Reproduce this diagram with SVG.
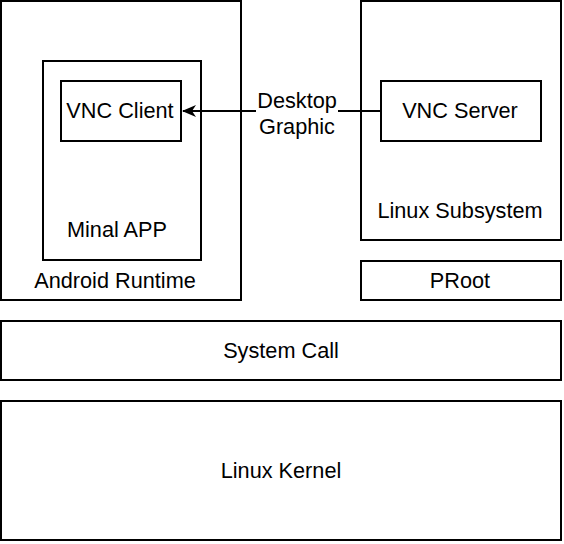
<svg xmlns="http://www.w3.org/2000/svg" width="564" height="544" viewBox="0 0 564 544">
<defs>
<style>
rect{fill:#fff;stroke:#000;stroke-width:2}
text{font-family:"Liberation Sans",Arial,sans-serif;font-size:21.7px;fill:#000;text-anchor:middle}
.lbl{fill:#fff;stroke:none}
</style>
<marker id="ah" markerWidth="14" markerHeight="12" refX="13" refY="6" orient="auto" markerUnits="userSpaceOnUse">
<path d="M0,0 L14,6 L0,12 L4,6 Z" fill="#000"/>
</marker>
</defs>
<g id="android-runtime"><rect x="1" y="1" width="240" height="299"/><text x="115" y="288">Android Runtime</text></g>
<g id="minal-app"><rect x="43" y="61" width="158" height="199"/><text x="117" y="237">Minal APP</text></g>
<g id="vnc-client"><rect x="61" y="81" width="120" height="60"/><text x="120" y="118">VNC Client</text></g>
<g id="linux-subsystem"><rect x="361" y="1" width="200" height="239"/><text x="460" y="218">Linux Subsystem</text></g>
<g id="vnc-server"><rect x="381" y="81" width="160" height="60"/><text x="460" y="118">VNC Server</text></g>
<g id="proot"><rect x="361" y="261" width="200" height="39"/><text x="460" y="288">PRoot</text></g>
<g id="system-call"><rect x="1" y="321" width="560" height="59"/><text x="281" y="358">System Call</text></g>
<g id="linux-kernel"><rect x="1" y="401" width="560" height="139"/><text x="281" y="478">Linux Kernel</text></g>
<g id="connectors">
<path d="M381,111 L183,111" stroke="#000" stroke-width="2" fill="none" marker-end="url(#ah)"/>
<rect class="lbl" x="256" y="90" width="82" height="46"/>
<text x="297" y="108">Desktop</text>
<text x="297" y="134">Graphic</text>
</g>
</svg>
